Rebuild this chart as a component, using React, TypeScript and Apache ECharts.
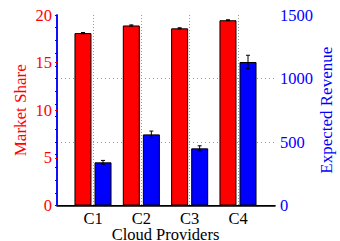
import React, { useEffect, useRef } from "react";
import * as echarts from "echarts";

const categories = ["C1", "C2", "C3", "C4"];
const marketShare = [18.1, 18.9, 18.6, 19.45];
const marketShareErr = [0.06, 0.06, 0.06, 0.05];
const revenue = [340, 560, 450, 1130];
const revenueErr = [15, 26, 20, 53];

const FONT = "Liberation Serif";

export default function App() {
  const ref = useRef<HTMLDivElement>(null);
  useEffect(() => {
    if (!ref.current) return;
    const chart = echarts.init(ref.current, null, { renderer: "svg" });

    const errSeries = (vals: number[], errs: number[], yIdx: number, off: number) => ({
      type: "custom",
      xAxisIndex: 2,
      yAxisIndex: yIdx,
      z: 5,
      clip: false,
      data: vals.map((v, i) => [i, v, errs[i]]),
      renderItem: (params: any, api: any) => {
        const i = api.value(0);
        const v = api.value(1);
        const e = api.value(2);
        const hi = api.coord([i, v + e]);
        const lo = api.coord([i, v - e]);
        const x = hi[0] + off;
        const w = 2;
        const style = { stroke: "#000", lineWidth: 1 };
        return {
          type: "group",
          children: [
            { type: "line", shape: { x1: x, y1: hi[1], x2: x, y2: lo[1] }, style },
            { type: "line", shape: { x1: x - w, y1: hi[1], x2: x + w, y2: hi[1] }, style },
            { type: "line", shape: { x1: x - w, y1: lo[1], x2: x + w, y2: lo[1] }, style },
          ],
        };
      },
    });

    chart.setOption({
      animation: false,
      textStyle: { fontFamily: FONT },
      grid: [
        { left: 57, right: 65, top: 15, bottom: 35.5, outerBoundsMode: "none", containLabel: false },
        { left: 93, right: 102, top: 15, bottom: 35.5, outerBoundsMode: "none", containLabel: false },
      ],
      xAxis: [
        {
          gridIndex: 0, type: "value", min: 0, max: 1, position: "bottom",
          axisLine: { show: true, lineStyle: { color: "#000", width: 1.5 } },
          axisTick: { show: false }, axisLabel: { show: false }, splitLine: { show: false },
        },
        {
          gridIndex: 0, type: "value", min: 0, max: 1, position: "top",
          axisLine: { show: true, lineStyle: { color: "#000", width: 1 } },
          axisTick: { show: false }, axisLabel: { show: false }, splitLine: { show: false },
        },
        {
          gridIndex: 1, type: "category", data: categories, boundaryGap: false,
          axisLine: { show: false }, axisTick: { show: false },
          axisLabel: { color: "#000", fontSize: 16.5, fontFamily: FONT, margin: 7, lineHeight: 12 },
          splitLine: { show: true, lineStyle: { color: "#9a9a9a", type: [1, 2], width: 1 } },
          name: "Cloud Providers", nameLocation: "middle", nameGap: 22.5, nameMoveOverlap: false,
          nameTextStyle: { color: "#000", fontSize: 16.5, fontFamily: FONT, lineHeight: 12 },
        },
      ],
      yAxis: [
        {
          gridIndex: 0, type: "value", min: 0, max: 20, interval: 5, position: "left",
          axisLine: { show: true, lineStyle: { color: "#0000ff", width: 1.5 } },
          axisTick: { show: true, inside: false, length: 2, lineStyle: { color: "#ff0000" } },
          axisLabel: { color: "#ff0000", fontSize: 16.5, fontFamily: FONT, margin: 5 },
          splitLine: { show: false },
          name: "Market Share", nameLocation: "middle", nameGap: 28, nameMoveOverlap: false,
          nameTextStyle: { color: "#ff0000", fontSize: 17, fontFamily: FONT },
        },
        {
          gridIndex: 0, type: "value", min: 0, max: 1500, interval: 500, position: "right",
          axisLine: { show: true, lineStyle: { color: "#0000ff", width: 1.5 } },
          axisTick: { show: true, inside: true, length: 2, lineStyle: { color: "#0000ff" } },
          minorTick: { show: true, splitNumber: 5, length: 2, lineStyle: { color: "#0000ff" } },
          axisLabel: {
            color: "#0000ff", fontSize: 16.5, fontFamily: FONT, margin: 5,
            formatter: (v: number) => String(v),
          },
          splitLine: {
            show: true, showMinLine: false, showMaxLine: false,
            lineStyle: { color: "#8c8cff", type: [1, 3], width: 1 },
          },
          name: "Expected Revenue", nameLocation: "middle", nameGap: 43, nameMoveOverlap: false,
          nameTextStyle: { color: "#0000ff", fontSize: 17, fontFamily: FONT },
        },
        { gridIndex: 1, type: "value", min: 0, max: 20, show: false },
        { gridIndex: 1, type: "value", min: 0, max: 1500, show: false },
      ],
      series: [
        {
          type: "bar", xAxisIndex: 2, yAxisIndex: 2, data: marketShare,
          barWidth: 17, barGap: "18%", clip: false,
          itemStyle: { color: "#ff0000", borderColor: "#000", borderWidth: 1 },
        },
        {
          type: "bar", xAxisIndex: 2, yAxisIndex: 3, data: revenue,
          barWidth: 17, barGap: "18%", clip: false,
          itemStyle: { color: "#0000ff", borderColor: "#000", borderWidth: 1 },
        },
        errSeries(marketShare, marketShareErr, 2, -10),
        errSeries(revenue, revenueErr, 3, 10),
      ],
    });
    return () => chart.dispose();
  }, []);
  return (
    <div
      ref={ref}
      style={{ position: "fixed", left: 0, top: 0, width: 340, height: 241, background: "#fff" }}
    />
  );
}
